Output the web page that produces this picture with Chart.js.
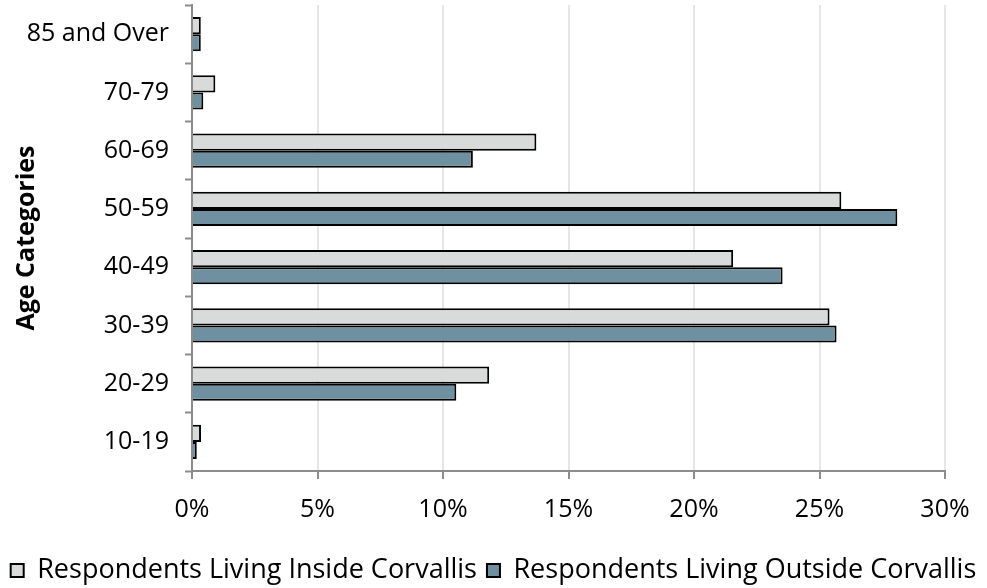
<!DOCTYPE html>
<html>
<head>
<meta charset="utf-8">
<script src="https://cdn.jsdelivr.net/npm/chart.js@4"></script>
<style>
  html, body { margin: 0; padding: 0; background: #fff; }
  #wrap { width: 987px; height: 588px; }
</style>
</head>
<body>
<div id="wrap"><canvas id="ageChart" width="987" height="588"></canvas></div>
<script>
// Age categories (top to bottom)
const categories = ['85 and Over', '70-79', '60-69', '50-59', '40-49', '30-39', '20-29', '10-19'];
// Percent of respondents
const insideValues = [0.35, 0.93, 13.72, 25.87, 21.56, 25.4, 11.84, 0.36];
const outsideValues = [0.35, 0.45, 11.19, 28.1, 23.53, 25.68, 10.53, 0.19];
const seriesNames = ['Respondents Living Inside Corvallis', 'Respondents Living Outside Corvallis'];
const xTicks = [0, 5, 10, 15, 20, 25, 30];

const FONT = "'Open Sans', sans-serif";
const axisGray = '#8c8c8c';
const PAD_BOTTOM = -6;

new Chart(document.getElementById('ageChart'), {
    type: 'bar',
    data: {
        labels: categories,
        datasets: [
            { label: seriesNames[0], data: insideValues, backgroundColor: '#d9dbdb', borderColor: '#000', borderWidth: 2 },
            { label: seriesNames[1], data: outsideValues, backgroundColor: '#6e90a0', borderColor: '#000', borderWidth: 2 }
        ]
    },
    options: {
        indexAxis: 'y',
        responsive: false,
        animation: false,
        layout: { padding: { top: 5, right: 0, left: 0, bottom: PAD_BOTTOM } },
        datasets: { bar: { categoryPercentage: 0.59, barPercentage: 1 } },
        plugins: {
            tooltip: { enabled: false },
            legend: {
                position: 'bottom',
                labels: {
                    color: '#000',
                    font: { family: FONT, size: 27 },
                    boxWidth: 13, boxHeight: 13,
                    padding: 10
                }
            }
        },
        scales: {
            x: {
                min: 0, max: 30,
                afterBuildTicks: s => { s.ticks = xTicks.map(v => ({ value: v })); },
                ticks: { color: '#000', font: { family: FONT, size: 25 }, padding: 16, callback: v => v + '%' },
                grid: { color: '#e6e6e6', lineWidth: 2, tickColor: axisGray, tickLength: 8, tickWidth: 2 },
                border: { display: true, color: axisGray, width: 2 },
                afterFit: s => {
                    const lg = s.chart.legend ? s.chart.legend.height : 0;
                    s.height = s.chart.height - PAD_BOTTOM - lg - 471;
                }
            },
            y: {
                ticks: { color: '#000', font: { family: FONT, size: 25 }, padding: 16 },
                grid: { offset: true, drawOnChartArea: false, tickColor: axisGray, tickLength: 7, tickWidth: 2 },
                border: { display: true, color: axisGray, width: 2 },
                title: { display: true, text: 'Age Categories', color: '#000', font: { family: FONT, size: 25, weight: 'bold' }, padding: { top: 12, bottom: 0 } },
                afterFit: s => { s.width = 192; s.paddingTop = 0; s.paddingBottom = 0; }
            },
            // empty right-side axis, only reserves the margin right of the plot
            yRight: {
                position: 'right',
                display: true,
                ticks: { display: false },
                grid: { display: false },
                border: { display: false },
                afterFit: s => { s.width = 42; s.paddingTop = 0; s.paddingBottom = 0; }
            }
        }
    }
});
</script>
</body>
</html>
